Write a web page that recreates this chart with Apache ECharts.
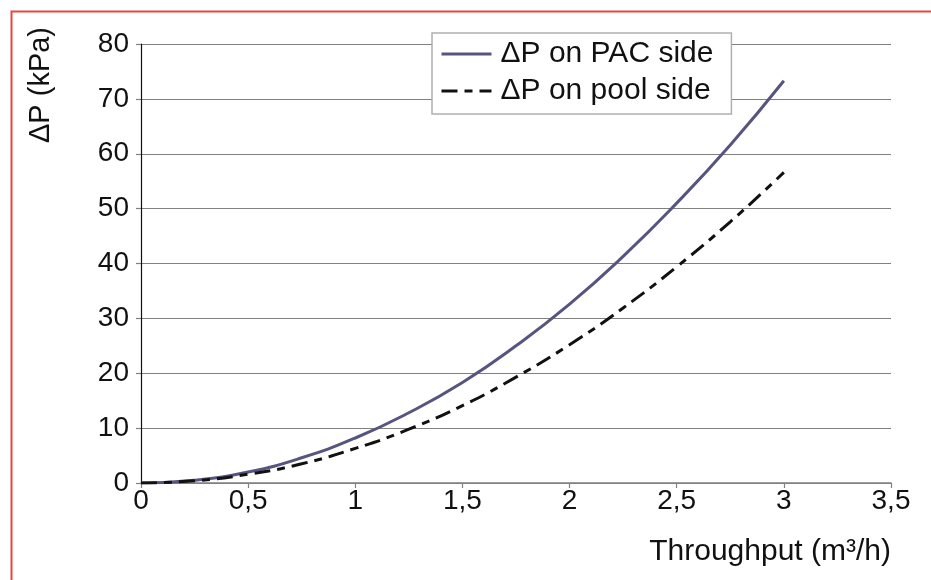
<!DOCTYPE html>
<html><head><meta charset="utf-8">
<script src="https://cdn.jsdelivr.net/npm/echarts@6/dist/echarts.min.js"></script>
<style>html,body{margin:0;padding:0;background:#fff;}#c{width:931px;height:580px;}</style>
</head><body><div id="c"></div>
<script>
const throughput = [0, 0.25, 0.5, 0.75, 1, 1.25, 1.5, 1.75, 2, 2.25, 2.5, 2.75, 3];
const pacSide = [0, 0.5, 2.0, 4.6, 8.2, 12.8, 18.3, 25.0, 32.6, 41.3, 51.0, 61.6, 73.3];
const poolSide = [0, 0.4, 1.6, 3.5, 6.3, 9.8, 14.1, 19.3, 25.2, 31.9, 39.4, 47.6, 56.6];
const seriesNames = ['ΔP on PAC side', 'ΔP on pool side'];
const yTitle = 'ΔP (kPa)';
const xTitle = 'Throughput (m³/h)';

const chart = echarts.init(document.getElementById('c'));
const font = 'Liberation Sans, Arial, sans-serif';
const fsTick = 28;
const fsText = 30;
chart.setOption({
  animation: false,
  textStyle: { fontFamily: font },
  grid: { left: 141, right: 40, top: 44, bottom: 97 },
  legend: {
    orient: 'vertical', left: 432, top: 33,
    backgroundColor: '#fff', borderColor: '#b0b0b0', borderWidth: 1.5,
    padding: [6, 18, 8, 8], itemWidth: 50, itemHeight: 30, itemGap: 7,
    itemStyle: { opacity: 0 },
    lineStyle: { width: 3 },
    textStyle: { fontSize: fsText, color: '#111', fontFamily: font, padding: [0, 0, 0, 4] },
    data: seriesNames
  },
  xAxis: {
    type: 'value', min: 0, max: 3.5, interval: 0.5,
    axisLine: { lineStyle: { color: '#808080', width: 1.5 } },
    axisTick: { show: true, length: 5, lineStyle: { color: '#808080', width: 1.2 } },
    splitLine: { show: false },
    axisLabel: { fontSize: fsTick, color: '#111', margin: 4, formatter: v => String(v).replace('.', ',') }
  },
  yAxis: {
    type: 'value', min: 0, max: 80, interval: 10,
    axisLine: { show: true, lineStyle: { color: '#111', width: 1.2 } },
    axisTick: { show: true, length: 5, lineStyle: { color: '#808080', width: 1.2 } },
    splitLine: { lineStyle: { color: '#808080', width: 1.2 } },
    axisLabel: { fontSize: fsTick, color: '#111', margin: 12 }
  },
  series: [
    { name: seriesNames[0], type: 'line', smooth: true, symbol: 'none', showSymbol: false,
      data: throughput.map((x, i) => [x, pacSide[i]]),
      lineStyle: { color: '#56557f', width: 3 }, itemStyle: { color: '#56557f' } },
    { name: seriesNames[1], type: 'line', smooth: true, symbol: 'none', showSymbol: false,
      data: throughput.map((x, i) => [x, poolSide[i]]),
      lineStyle: { color: '#111', width: 3, type: [16, 7, 8, 7] }, itemStyle: { color: '#111' } }
  ],
  graphic: [
    { type: 'rect', left: 9, top: 9, shape: { width: 921, height: 580 }, style: { fill: 'none', stroke: '#e8473c', lineWidth: 2 }, silent: true },
    { type: 'text', x: 41, y: 85, rotation: Math.PI / 2, style: { text: yTitle, font: '29px ' + font, fill: '#111', textAlign: 'center', textVerticalAlign: 'middle' } },
    { type: 'text', right: 40, top: 537, style: { text: xTitle, font: fsText + 'px ' + font, fill: '#111' } }
  ]
});
</script></body></html>
